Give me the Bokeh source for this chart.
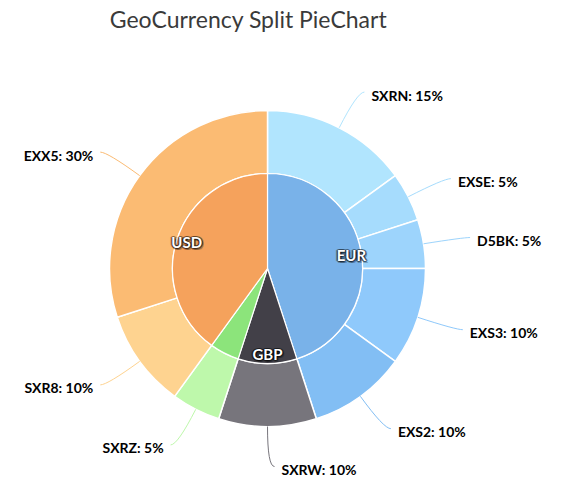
import numpy as np
from bokeh.plotting import figure
from bokeh.models import ColumnDataSource, Range1d
from bokeh.core.properties import value
from bokeh.embed import file_html
from bokeh.resources import INLINE

# outer ring: ETFs
etfs = ["SXRN", "EXSE", "D5BK", "EXS3", "EXS2", "SXRW", "SXRZ", "SXR8", "EXX5"]
etf_pct = [15, 5, 5, 10, 10, 10, 5, 10, 30]
etf_colors = ["#b1e5fe", "#a6dcfd", "#9dd4fc", "#8fc9fb", "#82bef4",
              "#77757c", "#bef8ab", "#fed390", "#fbbb73"]

# inner ring: currencies (green slice carries no label in the picture)
currencies = ["EUR", "GBP", "", "USD"]
cur_pct = [45, 10, 5, 40]
cur_colors = ["#79b2e9", "#424048", "#8ce47b", "#f5a25c"]

W, H = 553, 483
cx, cy = 267, 215
r_out, r_in = 158, 95


def angles(pct):
    pct = np.array(pct, dtype=float)
    a1 = np.cumsum(pct) * 3.6
    a0 = a1 - pct * 3.6
    return a0, a1


p = figure(width=W, height=H, output_backend="svg", toolbar_location=None,
           x_range=Range1d(0, W), y_range=Range1d(0, H),
           x_axis_type=None, y_axis_type=None, min_border=0)
p.grid.visible = False
p.outline_line_color = None

# outer ring
a0, a1 = angles(etf_pct)
outer = ColumnDataSource(dict(start=np.radians(90 - a1), end=np.radians(90 - a0),
                              color=etf_colors))
p.annular_wedge(x=cx, y=cy, inner_radius=r_in, outer_radius=r_out,
                start_angle="start", end_angle="end", fill_color="color",
                line_color="white", line_width=1.5, source=outer)

# leader lines + labels
mid = np.radians((a0 + a1) / 2)
ux, uy = np.sin(mid), np.cos(mid)
side = np.where(ux >= -1e-9, 1, -1)
x0, y0 = cx + r_out * ux, cy + r_out * uy
xc, yc = cx + 198 * ux, cy + 198 * uy
x1, y1 = xc + 7 * side, yc
p.quadratic(x0=x0, y0=y0, x1=x1, y1=y1, cx=xc, cy=yc,
            line_color=etf_colors, line_width=1)
labels = [f"{n}: {v}%" for n, v in zip(etfs, etf_pct)]
for s, align in [(1, "left"), (-1, "right")]:
    m = side == s
    p.text(x=(x1 + 7 * side)[m], y=(y1 - 3)[m], text=list(np.array(labels)[m]),
           text_font=value("Lato"), text_font_size="14px", text_font_style="bold",
           text_color="black", text_align=align, text_baseline="middle")

# inner pie
b0, b1 = angles(cur_pct)
inner = ColumnDataSource(dict(start=np.radians(90 - b1), end=np.radians(90 - b0),
                              color=cur_colors))
p.wedge(x=cx, y=cy, radius=r_in, start_angle="start", end_angle="end",
        fill_color="color", line_color="white", line_width=1.2, source=inner)

bm = np.radians((b0 + b1) / 2)
keep = [i for i, c in enumerate(currencies) if c]
lx = cx + 85 * np.sin(bm)[keep]
ly = cy + 85 * np.cos(bm)[keep]
names = [currencies[i] for i in keep]
for dx, dy in [(-1, 0), (1, 0), (0, -1), (0, 1), (1, -1), (-1, -1), (1, 1), (-1, 1),
               (2, -2), (-2, 0), (2, 0), (0, -2)]:
    p.text(x=lx + dx, y=ly + dy, text=names, text_font=value("Lato"),
           text_font_size="15px", text_font_style="bold", text_color="black",
           text_alpha=0.25, text_align="center", text_baseline="middle")
p.text(x=lx, y=ly, text=names, text_font=value("Lato"), text_font_size="15px",
       text_font_style="bold", text_color="white",
       text_align="center", text_baseline="middle")

# title
p.text(x=[248], y=[465], text=["GeoCurrency Split PieChart"], text_font=value("Lato"),
       text_font_size="23px", text_color="#3a3a3a",
       text_align="center", text_baseline="middle")

open("out.html", "w").write(file_html(p, INLINE))
